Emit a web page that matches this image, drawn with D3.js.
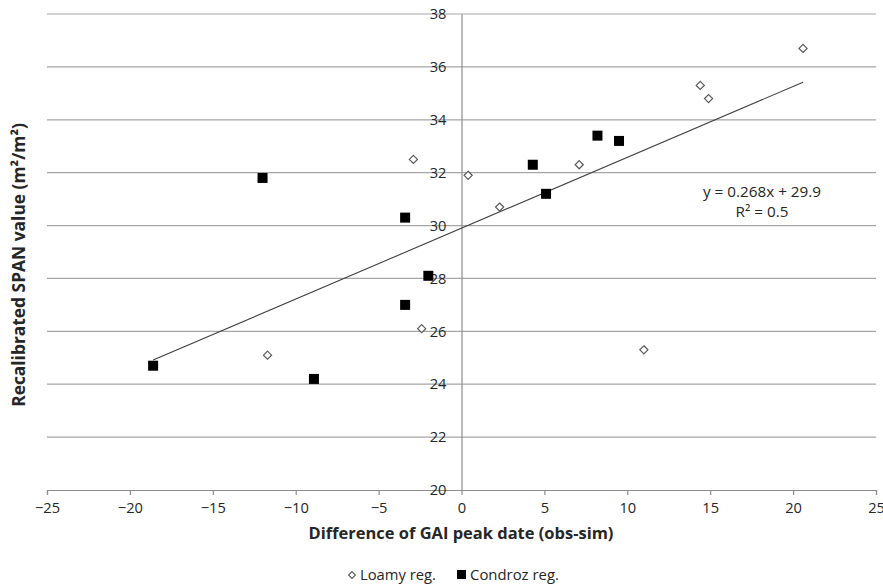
<!DOCTYPE html>
<html>
<head>
<meta charset="utf-8">
<script src="https://cdn.jsdelivr.net/npm/d3@7"></script>
<style>
  body { margin: 0; background: #fff; }
  svg text { font-family: "Open Sans", sans-serif; fill: #262626; }
</style>
</head>
<body>
<svg id="chart" width="883" height="586"></svg>
<script>
// Difference of GAI peak date (obs-sim) vs recalibrated SPAN value
const loamyX = [20.6, 14.4, 14.9, -2.9, 0.4, 7.1, 2.3, -2.4, -11.7, 11.0];
const loamyY = [36.7, 35.3, 34.8, 32.5, 31.9, 32.3, 30.7, 26.1, 25.1, 25.3];
const condrozX = [-18.6, -12.0, -8.9, -3.4, -3.4, -2.0, 4.3, 5.1, 8.2, 9.5];
const condrozY = [24.7, 31.8, 24.2, 30.3, 27.0, 28.1, 32.3, 31.2, 33.4, 33.2];
const xTicks = [-25, -20, -15, -10, -5, 0, 5, 10, 15, 20, 25];
const yTicks = [20, 22, 24, 26, 28, 30, 32, 34, 36, 38];
const trendSlope = 0.268;
const trendIntercept = 29.9;
const trendR2 = 0.5;
const seriesNames = ["Loamy reg.", "Condroz reg."];

const svg = d3.select("#chart");
const x = d3.scaleLinear().domain([-25, 25]).range([47, 876]);
const y = d3.scaleLinear().domain([20, 38]).range([490, 14]);

// scale a text element's font size so it spans the given width
function fitWidth(sel, width) {
  sel.attr("font-size", 100);
  const w = sel.node().getComputedTextLength();
  sel.attr("font-size", 100 * width / w);
  return sel;
}
// font size that makes a sample string a given width
function sizeFor(str, width, weight) {
  const t = svg.append("text").attr("font-weight", weight || "normal").text(str);
  fitWidth(t, width);
  const s = +t.attr("font-size");
  t.remove();
  return s;
}
const tickSize = sizeFor("-25", 21.5);

// horizontal gridlines
svg.append("g").selectAll("line").data(yTicks.filter(d => d !== 20)).join("line")
  .attr("x1", x(-25)).attr("x2", x(25))
  .attr("y1", d => y(d)).attr("y2", d => y(d))
  .attr("stroke", "#a6a6a6").attr("stroke-width", 1.2);

// x axis at y = 20
const xAxis = svg.append("g").attr("transform", `translate(0,${y(20)})`)
  .call(d3.axisBottom(x).tickValues(xTicks).tickSize(5).tickPadding(8).tickFormat(d3.format("d")));
xAxis.select(".domain").attr("stroke", "#8c8c8c").attr("stroke-width", 1.2);
xAxis.selectAll(".tick line").attr("stroke", "#8c8c8c").attr("stroke-width", 1.2);
xAxis.selectAll(".tick text").attr("font-size", tickSize).attr("fill", "#262626")
  .style("font-family", "'Open Sans', sans-serif");

// y axis crosses at x = 0
const yAxis = svg.append("g").attr("transform", `translate(${x(0)},0)`)
  .call(d3.axisLeft(y).tickValues(yTicks).tickSize(0).tickPadding(15).tickFormat(d3.format("d")));
yAxis.select(".domain").attr("stroke", "#8c8c8c").attr("stroke-width", 1.2);
yAxis.selectAll(".tick text").attr("font-size", tickSize).attr("fill", "#262626")
  .style("font-family", "'Open Sans', sans-serif");

// linear trendline over the data range
const allX = loamyX.concat(condrozX);
const xMin = d3.min(allX), xMax = d3.max(allX);
svg.append("line")
  .attr("x1", x(xMin)).attr("y1", y(trendSlope * xMin + trendIntercept))
  .attr("x2", x(xMax)).attr("y2", y(trendSlope * xMax + trendIntercept))
  .attr("stroke", "#404040").attr("stroke-width", 1.1);

// Loamy series: open diamonds
const diamond = d3.symbol().type(d3.symbolDiamond2).size(42);
svg.append("g").selectAll("path").data(loamyX.map((d, i) => [d, loamyY[i]])).join("path")
  .attr("d", diamond)
  .attr("transform", d => `translate(${x(d[0])},${y(d[1])})`)
  .attr("fill", "#fff").attr("stroke", "#595959").attr("stroke-width", 1.2);

// Condroz series: filled squares
svg.append("g").selectAll("rect").data(condrozX.map((d, i) => [d, condrozY[i]])).join("rect")
  .attr("x", d => x(d[0]) - 5).attr("y", d => y(d[1]) - 5)
  .attr("width", 10).attr("height", 10).attr("fill", "#000");

// trendline equation
const eq = svg.append("text").attr("x", 762).attr("y", 197).attr("text-anchor", "middle")
  .text(`y = ${trendSlope}x + ${trendIntercept}`);
fitWidth(eq, 118);
svg.append("text").attr("x", 762).attr("y", 217).attr("text-anchor", "middle")
  .attr("font-size", eq.attr("font-size"))
  .text(`R² = ${trendR2}`);

// axis titles
const xt = svg.append("text").attr("x", 461).attr("y", 539).attr("text-anchor", "middle")
  .attr("font-weight", "bold")
  .text("Difference of GAI peak date (obs-sim)");
fitWidth(xt, 305);
const yt = svg.append("text").attr("transform", "translate(25,265) rotate(-90)").attr("text-anchor", "middle")
  .attr("font-weight", "bold")
  .text("Recalibrated SPAN value (m²/m²)");
fitWidth(yt, 284);

// legend
const lg = svg.append("g");
lg.append("path").attr("d", d3.symbol().type(d3.symbolDiamond2).size(30))
  .attr("transform", "translate(352,575)")
  .attr("fill", "#fff").attr("stroke", "#595959").attr("stroke-width", 1.1);
const l1 = lg.append("text").attr("x", 360).attr("y", 580).text(seriesNames[0]);
fitWidth(l1, 76);
lg.append("rect").attr("x", 457).attr("y", 570).attr("width", 9).attr("height", 9).attr("fill", "#000");
const l2 = lg.append("text").attr("x", 470).attr("y", 580).text(seriesNames[1]);
fitWidth(l2, 89);
</script>
</body>
</html>
